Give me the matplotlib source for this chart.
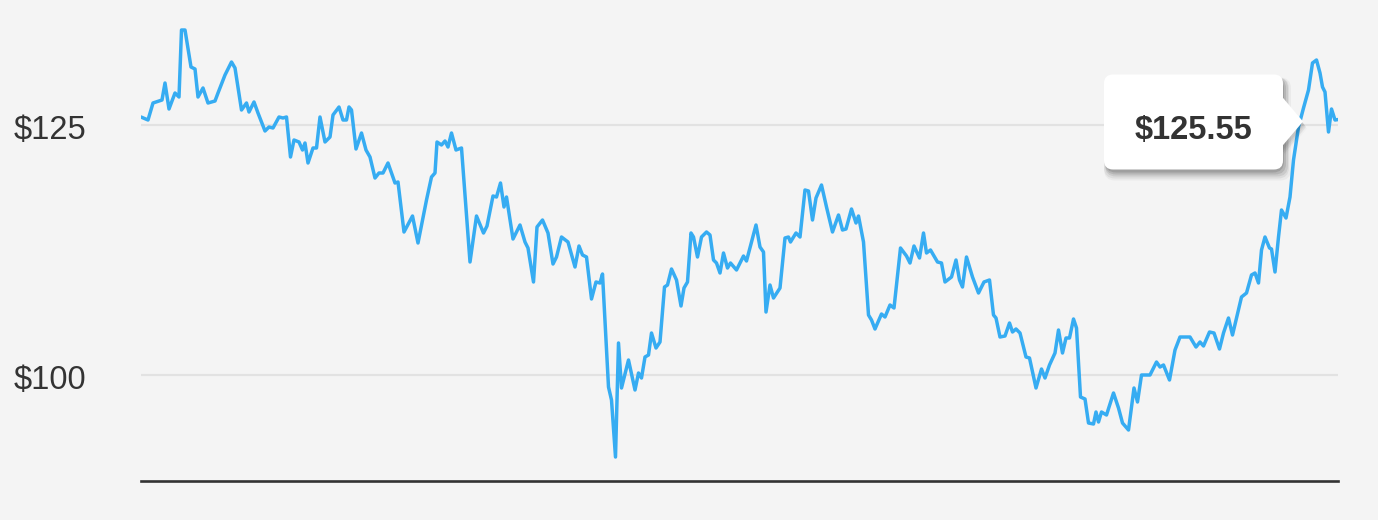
import matplotlib
matplotlib.use('Agg')
import matplotlib.pyplot as plt
from matplotlib.patches import FancyBboxPatch, Polygon
from matplotlib.transforms import IdentityTransform, blended_transform_factory

# trading-day index and closing price
days = [0.0, 1.4, 2.4, 4.2, 4.8, 5.6, 6.8, 7.6, 8.1, 8.8, 10.0, 10.8, 11.4, 12.4, 13.4,
        14.8, 15.4, 16.8, 18.1, 18.8, 20.1, 21.1, 21.6, 22.6, 23.4, 24.8, 25.6, 26.4,
        27.6, 28.4, 29.1, 29.9, 30.6, 31.6, 32.3, 32.8, 33.4, 34.4, 35.1, 35.8, 36.8,
        37.8, 38.4, 39.6, 40.4, 41.1, 41.6, 42.1, 43.0, 44.1, 45.0, 45.8, 46.8, 47.6,
        48.4, 49.4, 50.8, 51.4, 52.6, 54.3, 55.4, 57.1, 58.1, 58.8, 59.2, 60.1, 60.8,
        61.4, 62.1, 63.0, 64.1, 65.8, 67.1, 68.5, 69.2, 70.4, 71.1, 71.9, 72.6, 73.1,
        74.4, 75.8, 76.8, 77.4, 78.5, 79.2, 80.3, 81.4, 82.4, 83.1, 84.1, 85.4, 86.8,
        87.6, 88.3, 89.1, 90.1, 91.0, 91.8, 92.3, 93.5, 94.1, 94.9, 95.5, 96.1, 97.5,
        98.8, 99.5, 100.1, 100.8, 101.5, 102.1, 103.0, 103.8, 104.7, 105.3, 106.1,
        107.1, 108.0, 108.6, 109.3, 110.0, 110.5, 111.3, 112.1, 113.1, 113.8, 114.5,
        115.1, 115.8, 116.5, 117.3, 117.9, 119.1, 120.5, 121.1, 122.1, 123.0, 123.8,
        124.5, 125.0, 125.8, 126.5, 127.8, 128.8, 129.5, 129.9, 131.0, 131.8, 132.8,
        133.5, 134.3, 135.0, 136.1, 137.1, 138.3, 139.5, 140.3, 141.0, 142.1, 143.0,
        143.5, 144.5, 145.5, 146.1, 146.8, 148.1, 148.8, 149.8, 150.6, 151.9, 153.1,
        153.8, 154.6, 155.7, 156.5, 157.1, 157.9, 159.3, 160.1, 160.8, 162.1, 163.0,
        163.7, 164.3, 165.1, 166.3, 167.5, 168.6, 169.7, 170.5, 171.0, 171.8, 172.8,
        173.7, 174.3, 175.0, 175.8, 177.0, 177.7, 179.0, 180.1, 180.8, 181.7, 182.8,
        183.5, 184.3, 185.0, 185.7, 186.5, 187.1, 187.9, 188.8, 189.5, 190.5, 191.0,
        191.5, 192.1, 193.1, 194.5, 195.5, 196.3, 197.5, 198.6, 199.3, 200.1, 201.8,
        203.1, 203.8, 204.5, 205.7, 206.8, 207.8, 209.8, 211.0, 211.8, 212.5, 213.7,
        214.6, 215.7, 216.5, 217.5, 218.3, 220.1, 221.1, 222.1, 222.8, 223.5, 224.1,
        224.8, 225.7, 226.1, 226.8, 227.5, 228.1, 229.0, 229.8, 230.5, 231.5, 232.5,
        233.5, 234.3, 235.1, 235.8, 236.3, 236.8, 237.5, 238.1, 238.8, 239.5]
prices = [125.8, 125.5, 127.2, 127.5, 129.2, 126.6, 128.2, 127.8, 134.5, 134.5, 130.8,
          130.6, 127.8, 128.7, 127.2, 127.4, 128.2, 130.0, 131.3, 130.7, 126.5, 127.2,
          126.3, 127.3, 126.2, 124.4, 124.8, 124.7, 125.8, 125.7, 125.8, 121.8, 123.5,
          123.3, 122.5, 123.2, 121.2, 122.7, 122.7, 125.8, 123.3, 123.8, 126.0, 126.8,
          125.5, 125.5, 126.8, 126.5, 122.6, 124.2, 122.5, 121.8, 119.7, 120.2, 120.2,
          121.2, 119.2, 119.3, 114.3, 115.9, 113.2, 117.5, 119.8, 120.2, 123.3, 123.0,
          123.4, 122.8, 124.2, 122.5, 122.7, 111.3, 115.9, 114.2, 114.9, 117.9, 117.8,
          119.2, 116.8, 117.8, 113.6, 115.0, 113.3, 112.7, 109.3, 114.8, 115.5, 114.2,
          111.1, 111.8, 113.8, 113.3, 110.8, 112.9, 112.0, 111.8, 107.6, 109.3, 109.2,
          110.1, 98.8, 97.5, 91.8, 103.2, 98.7, 101.5, 98.5, 100.2, 99.7, 101.8, 102.0,
          104.2, 102.7, 103.3, 108.8, 109.0, 110.6, 109.5, 106.9, 108.7, 109.3, 114.2,
          113.8, 111.8, 113.8, 114.3, 114.0, 111.5, 111.2, 110.2, 112.2, 110.7, 111.2,
          110.5, 111.9, 111.4, 113.3, 115.0, 112.8, 112.3, 106.3, 109.0, 107.7, 108.7,
          113.7, 113.8, 113.3, 114.2, 113.8, 118.5, 118.4, 115.5, 117.7, 119.0, 116.8,
          114.3, 116.0, 114.5, 114.6, 116.6, 115.2, 115.9, 113.3, 106.0, 105.5, 104.6,
          106.1, 105.8, 107.0, 106.7, 112.7, 111.9, 111.2, 112.9, 111.7, 114.2, 112.2,
          112.5, 111.3, 111.2, 109.3, 109.8, 111.5, 109.5, 108.8, 111.8, 109.8, 108.2,
          109.3, 109.5, 106.0, 105.7, 103.8, 103.9, 105.2, 104.3, 104.6, 104.2, 101.8,
          101.7, 98.7, 100.6, 99.7, 101.0, 102.2, 104.5, 102.2, 103.7, 103.7, 105.6,
          104.7, 97.8, 97.6, 95.2, 95.1, 96.3, 95.3, 96.3, 96.0, 98.2, 96.7, 95.2, 94.5,
          98.7, 97.3, 100.0, 100.0, 101.3, 100.8, 101.0, 99.5, 102.5, 103.8, 103.8,
          102.8, 103.3, 102.9, 104.3, 104.2, 102.6, 104.2, 105.7, 104.0, 107.8, 108.2,
          110.0, 110.2, 109.2, 112.5, 113.8, 112.7, 112.6, 110.3, 113.8, 116.5, 115.7,
          117.8, 121.5, 124.8, 126.7, 128.5, 131.2, 131.5, 130.2, 128.8, 128.3, 124.3,
          126.6, 125.5, 125.55]

tick_values = [100, 125]
tick_labels = ['$100', '$125']

tooltip_day = 232.4
tooltip_price = 125.35
tooltip_text = '$125.55'

bg = '#f4f4f4'
W, H = 1378, 520

fig = plt.figure(figsize=(W / 100, H / 100), dpi=100)
fig.patch.set_facecolor(bg)
ax = fig.add_axes([141 / W, 39 / H, 1197 / W, 461 / H])
ax.set_facecolor(bg)
ax.set_xlim(0, 239.4)
ax.set_ylim(89.4, 135.5)

for v in tick_values:
    ax.axhline(v, color='#e2e2e2', lw=1.6, zorder=1)

ax.plot(days, prices, color='#36acf2', lw=2.5, solid_joinstyle='round',
        solid_capstyle='round', zorder=3)

for s in ['top', 'right', 'left']:
    ax.spines[s].set_visible(False)
ax.spines['bottom'].set_color('#333333')
ax.spines['bottom'].set_linewidth(1.9)
ax.set_xticks([])
ax.set_yticks([])

trans = blended_transform_factory(fig.transFigure, ax.transData)
for v, lab in zip(tick_values, tick_labels):
    ax.text(14 / W, v - 0.5, lab, transform=trans, ha='left', va='center',
            fontsize=23.5, color='#333333', family='Liberation Sans')

# tooltip, built in display pixels from the hovered point
tip_x, tip_y = ax.transData.transform((tooltip_day, tooltip_price))
right = tip_x - 20
left = right - 179
top = tip_y + 47
bottom = tip_y - 48

for dx, dy, grow, a in [(4, -7, 8, 0.04), (3, -6, 6, 0.06), (3, -5, 4, 0.08), (2, -4, 2, 0.10), (1, -3, 0, 0.12)]:
    sh = FancyBboxPatch((left + dx - grow / 2, bottom + dy - grow / 2), right - left + grow,
                        top - bottom + grow, boxstyle='round,pad=0,rounding_size=11',
                        transform=IdentityTransform(), fc='black', ec='none', alpha=a)
    fig.add_artist(sh)
    sh2 = Polygon([(right + dx - 2, tip_y + dy + 27), (tip_x + dx, tip_y + dy),
                   (right + dx - 2, tip_y + dy - 27)], closed=True,
                  transform=IdentityTransform(), fc='black', ec='none', alpha=a * 0.5)
    fig.add_artist(sh2)

box = FancyBboxPatch((left, bottom), right - left, top - bottom,
                     boxstyle='round,pad=0,rounding_size=9',
                     transform=IdentityTransform(), fc='white', ec='none')
fig.add_artist(box)
arrow = Polygon([(right - 2, tip_y + 26), (tip_x, tip_y), (right - 2, tip_y - 26)],
                closed=True, transform=IdentityTransform(), fc='white', ec='none')
fig.add_artist(arrow)
fig.text((left + right) / 2 / W, (tip_y - 9) / H, tooltip_text, ha='center', va='center',
         fontsize=23.5, fontweight='bold', color='#333333', family='Liberation Sans')

fig.savefig('out.png', dpi=100, facecolor=bg)
